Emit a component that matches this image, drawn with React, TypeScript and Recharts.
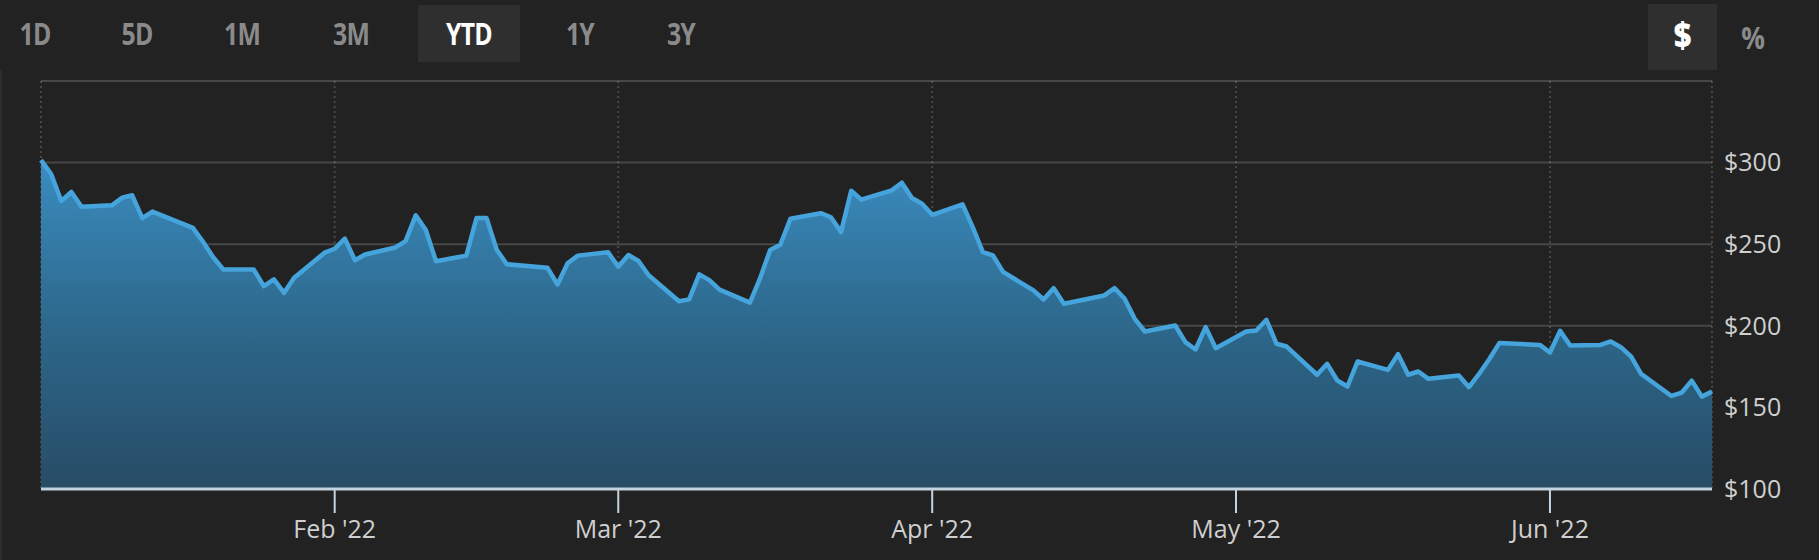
import React from "react";
import { AreaChart, Area, XAxis, YAxis, CartesianGrid } from "recharts";

// trading days shown on the YTD view
const tradeDates = [
  "2022-01-03", "2022-01-04", "2022-01-05", "2022-01-06", "2022-01-07",
  "2022-01-10", "2022-01-11", "2022-01-12", "2022-01-13", "2022-01-14",
  "2022-01-18", "2022-01-19", "2022-01-20", "2022-01-21",
  "2022-01-24", "2022-01-25", "2022-01-26", "2022-01-27", "2022-01-28",
  "2022-01-31", "2022-02-01", "2022-02-02", "2022-02-03", "2022-02-04",
  "2022-02-07", "2022-02-08", "2022-02-09", "2022-02-10", "2022-02-11",
  "2022-02-14", "2022-02-15", "2022-02-16", "2022-02-17", "2022-02-18",
  "2022-02-22", "2022-02-23", "2022-02-24", "2022-02-25",
  "2022-02-28", "2022-03-01", "2022-03-02", "2022-03-03", "2022-03-04",
  "2022-03-07", "2022-03-08", "2022-03-09", "2022-03-10", "2022-03-11",
  "2022-03-14", "2022-03-15", "2022-03-16", "2022-03-17", "2022-03-18",
  "2022-03-21", "2022-03-22", "2022-03-23", "2022-03-24", "2022-03-25",
  "2022-03-28", "2022-03-29", "2022-03-30", "2022-03-31", "2022-04-01",
  "2022-04-04", "2022-04-05", "2022-04-06", "2022-04-07", "2022-04-08",
  "2022-04-11", "2022-04-12", "2022-04-13", "2022-04-14",
  "2022-04-18", "2022-04-19", "2022-04-20", "2022-04-21", "2022-04-22",
  "2022-04-25", "2022-04-26", "2022-04-27", "2022-04-28", "2022-04-29",
  "2022-05-02", "2022-05-03", "2022-05-04", "2022-05-05", "2022-05-06",
  "2022-05-09", "2022-05-10", "2022-05-11", "2022-05-12", "2022-05-13",
  "2022-05-16", "2022-05-17", "2022-05-18", "2022-05-19", "2022-05-20",
  "2022-05-23", "2022-05-24", "2022-05-25", "2022-05-26", "2022-05-27",
  "2022-05-31", "2022-06-01", "2022-06-02", "2022-06-03",
  "2022-06-06", "2022-06-07", "2022-06-08", "2022-06-09", "2022-06-10",
  "2022-06-13", "2022-06-14", "2022-06-15", "2022-06-16", "2022-06-17",
];

const closePrices = [
  301.5, 293, 276.5, 282, 273,
  273.8, 278.5, 280, 266, 270,
  260, 251.5, 242, 234.5,
  234.5, 224.3, 228.4, 220.2, 229.4,
  244.8, 247.2, 253.4, 240.2, 243.7,
  248, 251.9, 267.7, 258.7, 239.6,
  243, 266, 266, 246.5, 237.7,
  235.6, 225.3, 238.3, 243,
  245, 236.2, 243.4, 239.7, 231,
  215, 216.2, 231.5, 228, 222.2,
  214.2, 229, 246.5, 249.6, 265.6,
  269, 266.5, 257.4, 282.8, 277.3,
  283, 287.7, 278.3, 274.8, 268,
  274.4, 260.5, 245.2, 243.1, 233,
  221.7, 216.1, 223.1, 213.5,
  218.6, 223.1, 216.6, 204.3, 196.5,
  200.2, 190, 185.5, 199.2, 186.3,
  196.5, 197.1, 203.7, 189, 187.3,
  170, 176.7, 166.5, 162.8, 178.1,
  173, 182.6, 170, 172, 167.5,
  169.5, 162.4, 170.5, 179.5, 189.4,
  188.3, 183.6, 196.9, 187.9,
  188.3, 190.4, 186.9, 181.2, 170.5,
  157, 159, 166.4, 156.6, 159.7,
];

const xTickDates = ["2022-02-01", "2022-03-01", "2022-04-01", "2022-05-01", "2022-06-01"];
const xTickLabels = ["Feb '22", "Mar '22", "Apr '22", "May '22", "Jun '22"];
const yTicks = [100, 150, 200, 250, 300, 350];
const rangeButtons = ["1D", "5D", "1M", "3M", "YTD", "1Y", "3Y"];
const activeRange = "YTD";

const toTs = (d: string) => Date.parse(d + "T00:00:00Z");
const xTickTs = xTickDates.map(toTs);
const chartData = tradeDates.map((d, i) => ({ t: toTs(d), price: closePrices[i] }));

const BG = "#222222";
const LABEL = "#cfcfcf";
const GRID = "rgba(255,255,255,0.17)";
const AXIS = "#c3d3df";
const FONT = "'Open Sans', 'Noto Sans', sans-serif";

// pixel centres of the range buttons
const buttonX = [35, 137, 242, 351, 469, 580, 681];

export default function App() {
  return (
    <div
      style={{
        position: "absolute",
        left: 0,
        top: 0,
        width: 1819,
        height: 560,
        background: BG,
        overflow: "hidden",
        fontFamily: FONT,
      }}
    >
      <div style={{ position: "absolute", left: 0, top: 70, width: 2, height: 490, background: "#2c2c2c" }} />
      {rangeButtons.map((b, i) => {
        const active = b === activeRange;
        return (
          <div
            key={b}
            style={{
              position: "absolute",
              left: buttonX[i] - 51,
              top: 5,
              width: 102,
              height: 57,
              background: active ? "#2f2f2f" : "transparent",
            }}
          >
            <div
              style={{
                lineHeight: "56px",
                textAlign: "center",
                color: active ? "#ffffff" : "#8a8a8a",
                fontWeight: 700,
                fontSize: 31,
                letterSpacing: -1,
                transform: "scaleX(0.8)",
              }}
            >
              {b}
            </div>
          </div>
        );
      })}
      <div
        style={{
          position: "absolute",
          left: 1648,
          top: 4,
          width: 69,
          height: 66,
          background: "#2f2f2f",
        }}
      >
        <div
          style={{
            lineHeight: "62px",
            textAlign: "center",
            color: "#ffffff",
            fontWeight: 800,
            fontSize: 36,
            transform: "scaleX(0.85)",
          }}
        >
          $
        </div>
      </div>
      <div
        style={{
          position: "absolute",
          left: 1720,
          top: 4,
          width: 66,
          height: 66,
          lineHeight: "66px",
          textAlign: "center",
          color: "#8a8a8a",
          fontWeight: 700,
          fontSize: 31,
          transform: "scaleX(0.85)",
        }}
      >
        %
      </div>
      <div style={{ position: "absolute", left: 0, top: 0 }}>
        <AreaChart width={1819} height={560} data={chartData} margin={{ top: 81, right: 0, left: 41, bottom: 0 }}>
          <defs>
            <linearGradient id="priceFill" x1="0" y1="0" x2="0" y2="1">
              <stop offset="0%" stopColor="#3a8cc0" />
              <stop offset="55%" stopColor="#2c6587" />
              <stop offset="100%" stopColor="#284c66" />
            </linearGradient>
          </defs>
          <XAxis
            dataKey="t"
            type="number"
            scale="time"
            domain={[chartData[0].t, chartData[chartData.length - 1].t]}
            ticks={xTickTs}
            tickFormatter={(v: number) => xTickLabels[xTickTs.indexOf(v)]}
            height={71}
            axisLine={{ stroke: AXIS, strokeWidth: 3 }}
            tickLine={{ stroke: AXIS, strokeWidth: 2 }}
            tickSize={24}
            tickMargin={7}
            tick={{ fill: LABEL, fontSize: 25, fontFamily: FONT }}
          />
          <YAxis
            orientation="right"
            domain={[100, 350]}
            ticks={yTicks}
            width={107}
            axisLine={false}
            tickLine={false}
            tickSize={0}
            tickMargin={12}
            tickFormatter={(v: number) => (v === 350 ? "" : `$${v}`)}
            tick={{ fill: LABEL, fontSize: 25, fontFamily: FONT, textAnchor: "start" }}
          />
          <Area
            type="linear"
            dataKey="price"
            stroke="#46a4dc"
            strokeWidth={4.5}
            strokeLinejoin="round"
            fill="url(#priceFill)"
            fillOpacity={1}
            isAnimationActive={false}
            dot={false}
            activeDot={false}
          />
          <CartesianGrid vertical={false} stroke={GRID} strokeWidth={2} />
          <CartesianGrid horizontal={false} stroke={GRID} strokeWidth={2} strokeDasharray="2 3" />
        </AreaChart>
      </div>
    </div>
  );
}
